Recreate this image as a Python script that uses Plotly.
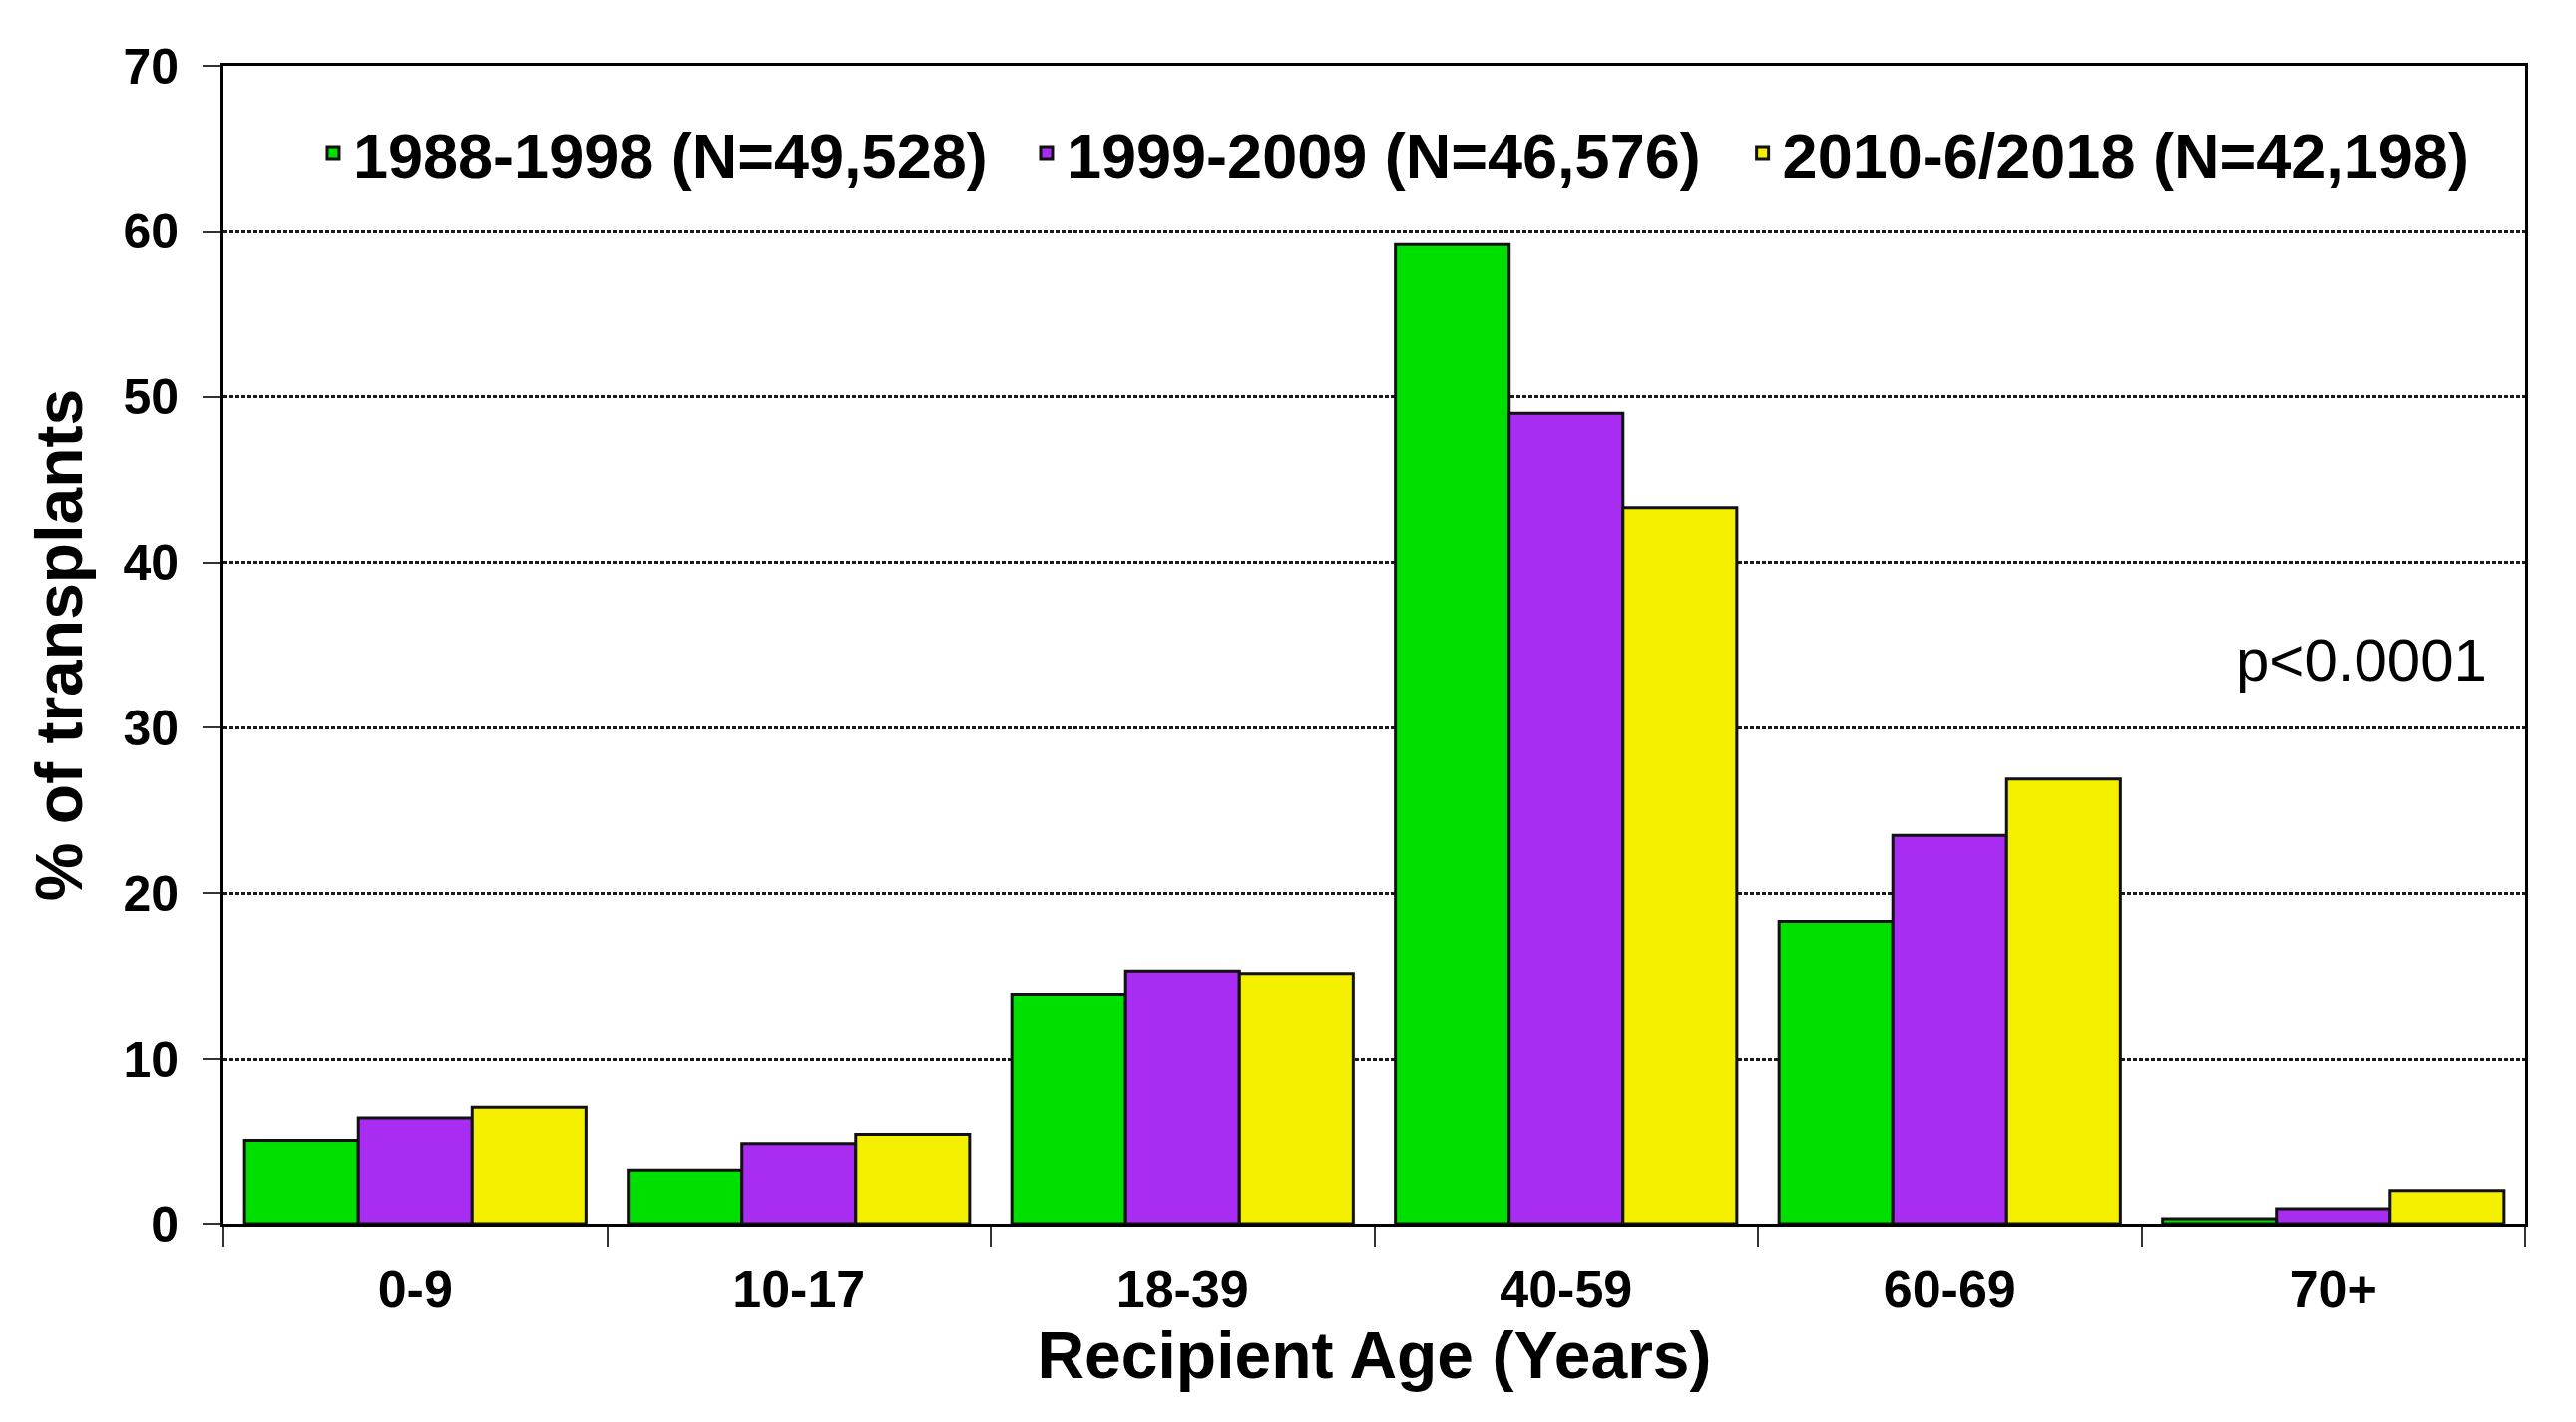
import plotly.graph_objects as go

categories = ["0-9", "10-17", "18-39", "40-59", "60-69", "70+"]
series_names = ["1988-1998 (N=49,528)", "1999-2009 (N=46,576)", "2010-6/2018 (N=42,198)"]
era_1988_1998 = [5.1, 3.3, 13.9, 59.2, 18.3, 0.3]
era_1999_2009 = [6.45, 4.9, 15.3, 49.0, 23.5, 0.9]
era_2010_2018 = [7.1, 5.45, 15.15, 43.3, 26.9, 2.0]
colors = ["#00E000", "#A82CF2", "#F4F000"]
legend_groups = ["legend", "legend", "legend2"]
y_ticks = [0, 10, 20, 30, 40, 50, 60, 70]

FONT = "Liberation Sans, Arial, sans-serif"

fig = go.Figure()
for name, vals, col, lg in zip(series_names, [era_1988_1998, era_1999_2009, era_2010_2018], colors, legend_groups):
    fig.add_trace(go.Bar(
        x=categories, y=vals, name=name, legend=lg,
        marker=dict(color=col, line=dict(color="#111111", width=3)),
    ))

legend_style = dict(
    orientation="h", xanchor="left", y=0.925, yanchor="middle",
    font=dict(size=63, family=FONT, weight="bold"),
    bgcolor="rgba(0,0,0,0)", itemwidth=30, traceorder="normal",
)

fig.update_layout(
    width=2566, height=1409,
    margin=dict(l=216, r=43, t=58, b=190),
    paper_bgcolor="white", plot_bgcolor="white",
    barmode="group", bargap=0.11, bargroupgap=0,
    font=dict(family=FONT, color="black"),
    legend=dict(x=0.039, entrywidth=670, **legend_style),
    legend2=dict(x=0.660, **legend_style),
    showlegend=True,
)

fig.update_xaxes(
    automargin=False,
    showline=True, linecolor="black", linewidth=3, mirror=True,
    ticks="outside", tickson="boundaries", ticklen=20, tickwidth=2, tickcolor="#333",
    tickfont=dict(size=52, family=FONT, weight="bold"),
    ticklabelstandoff=18,
    title=dict(text="Recipient Age (Years)", font=dict(size=66, family=FONT, weight="bold"), standoff=6),
    showgrid=False,
)
fig.update_yaxes(
    automargin=False,
    range=[0, 70], tickvals=y_ticks,
    showline=True, linecolor="black", linewidth=3, mirror=True,
    ticks="outside", ticklen=18, tickwidth=2, tickcolor="#333",
    tickfont=dict(size=50, family=FONT, weight="bold"),
    ticklabelstandoff=14,
    showgrid=True, gridcolor="#1a1a1a", gridwidth=2.5, griddash="4px,2px",
    title=dict(text="% of transplants", font=dict(size=66, family=FONT, weight="bold"), standoff=20),
    zeroline=False,
)

fig.add_annotation(
    text="p<0.0001", xref="paper", yref="y", x=0.929, y=34.1,
    showarrow=False, font=dict(size=60, family=FONT, color="black"),
    xanchor="center", yanchor="middle",
)

fig.write_html("out.html")
